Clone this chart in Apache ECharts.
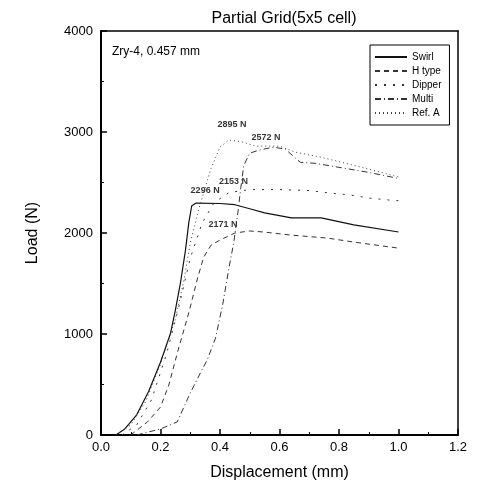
<!DOCTYPE html>
<html>
<head>
<meta charset="utf-8">
<script src="https://cdn.jsdelivr.net/npm/echarts@6/dist/echarts.min.js"></script>
<style>
  html, body { margin: 0; padding: 0; background: #fff; }
  #main { width: 478px; height: 491px; }
</style>
</head>
<body>
<div id="main"></div>
<script>
// data: [displacement (mm), load (N)]
var seriesNames = ['Swirl', 'H type', 'Dipper', 'Multi', 'Ref. A'];

var swirl = [[0.05,0],[0.08,60],[0.12,200],[0.16,430],[0.2,720],[0.234,1010],[0.25,1237],[0.267,1505],
  [0.284,1830],[0.295,2100],[0.305,2270],[0.32,2296],[0.4,2292],[0.45,2280],[0.5,2240],[0.55,2200],
  [0.64,2150],[0.74,2150],[0.85,2080],[1.0,2010]];
var hType = [[0.1,0],[0.156,129],[0.2,277],[0.228,495],[0.26,850],[0.295,1208],[0.323,1535],[0.345,1760],
  [0.37,1880],[0.4,1930],[0.45,2000],[0.5,2020],[0.546,2010],[0.636,1980],[0.76,1950],[0.85,1910],[1.0,1850]];
var dipper = [[0.07,0],[0.12,100],[0.17,350],[0.22,800],[0.26,1250],[0.3,1750],[0.34,2100],[0.38,2300],
  [0.43,2400],[0.5,2430],[0.6,2430],[0.7,2420],[0.77,2395],[0.84,2376],[0.9,2346],[0.97,2326],[1.0,2320]];
var multi = [[0.12,0],[0.2,60],[0.256,129],[0.3,416],[0.334,614],[0.357,743],[0.385,960],[0.41,1307],
  [0.43,1653],[0.446,1900],[0.46,2200],[0.47,2450],[0.48,2670],[0.5,2790],[0.53,2820],[0.58,2850],
  [0.62,2830],[0.65,2750],[0.67,2700],[0.72,2690],[0.8,2650],[0.9,2600],[1.0,2540]];
var refA = [[0.05,0],[0.1,100],[0.15,330],[0.2,700],[0.25,1150],[0.28,1550],[0.3,1900],[0.328,2230],
  [0.368,2624],[0.4,2851],[0.43,2920],[0.47,2905],[0.52,2860],[0.6,2860],[0.654,2800],[0.74,2750],
  [0.85,2670],[1.0,2555]];

// peak annotations: [x, y, text]
var peakLabels = [[0.44,3070,'2895 N'],[0.555,2950,'2572 N'],[0.445,2505,'2153 N'],
  [0.35,2425,'2296 N'],[0.41,2080,'2171 N']];

var xTicks = [0, 1.2, 0.2];
var yTicks = [0, 4000, 1000];

var chart = echarts.init(document.getElementById('main'));
var FONT = 'Liberation Sans';

function mkLine(name, data, type, color, width) {
  return {
    name: name,
    type: 'line',
    data: data,
    symbol: 'none',
    smooth: false,
    lineStyle: { type: type, color: color, width: width },
    itemStyle: { color: color },
    z: 3
  };
}

var series = [
  mkLine(seriesNames[0], swirl, 'solid', '#111', 1.2),
  mkLine(seriesNames[1], hType, [5, 4], '#333', 1),
  mkLine(seriesNames[2], dipper, [2, 7], '#333', 1),
  mkLine(seriesNames[3], multi, [6, 3, 1, 3], '#333', 1),
  mkLine(seriesNames[4], refA, [1, 3], '#444', 1)
];

series.push({
  type: 'scatter',
  data: peakLabels.map(function (p) { return { value: [p[0], p[1]], label: { formatter: p[2] } }; }),
  symbolSize: 0,
  silent: true,
  label: {
    show: true, position: 'inside', color: '#000',
    fontFamily: FONT, fontSize: 9, fontWeight: 'bold'
  }
});

var option = {
  animation: false,
  backgroundColor: '#fff',
  title: {
    text: 'Partial Grid(5x5 cell)',
    left: 279, top: 6, textAlign: 'center',
    textStyle: { fontFamily: FONT, fontSize: 16, fontWeight: 'normal', color: '#000' }
  },
  grid: { left: 101, right: 20, top: 31, bottom: 56 },
  legend: {
    data: seriesNames,
    orient: 'vertical',
    left: 370, top: 45, width: 77,
    padding: [7, 8, 7, 4],
    itemGap: 4,
    itemWidth: 32, itemHeight: 9,
    borderColor: '#000', borderWidth: 1,
    itemStyle: { opacity: 0 },
    textStyle: { fontFamily: FONT, fontSize: 10, color: '#000' }
  },
  xAxis: [{
    type: 'value',
    min: xTicks[0], max: xTicks[1], interval: xTicks[2],
    name: 'Displacement (mm)',
    nameLocation: 'middle', nameGap: 30,
    nameTextStyle: { fontFamily: FONT, fontSize: 16, color: '#000' },
    axisLine: { onZero: false, lineStyle: { color: '#000', width: 2 } },
    axisTick: { inside: true, length: 6, lineStyle: { color: '#000', width: 1.5 } },
    minorTick: { show: true, splitNumber: 2, length: 3, lineStyle: { color: '#000' } },
    axisLabel: { fontFamily: FONT, fontSize: 13, color: '#000', margin: 6,
      formatter: function (v) { return v.toFixed(1); } },
    splitLine: { show: false }
  }, {
    type: 'value', position: 'top',
    min: xTicks[0], max: xTicks[1],
    axisLine: { onZero: false, lineStyle: { color: '#000', width: 1.5 } },
    axisTick: { show: false }, axisLabel: { show: false }, splitLine: { show: false }
  }],
  yAxis: [{
    type: 'value',
    min: yTicks[0], max: yTicks[1], interval: yTicks[2],
    name: 'Load (N)',
    nameLocation: 'middle', nameGap: 60,
    nameTextStyle: { fontFamily: FONT, fontSize: 16, color: '#000' },
    axisLine: { show: true, onZero: false, lineStyle: { color: '#000', width: 2 } },
    axisTick: { show: true, inside: true, length: 6, lineStyle: { color: '#000', width: 1.5 } },
    minorTick: { show: true, splitNumber: 2, length: 3, lineStyle: { color: '#000' } },
    axisLabel: { fontFamily: FONT, fontSize: 13, color: '#000', margin: 8,
      formatter: function (v) { return String(v); } },
    splitLine: { show: false }
  }, {
    type: 'value', position: 'right',
    min: yTicks[0], max: yTicks[1],
    axisLine: { show: true, onZero: false, lineStyle: { color: '#000', width: 1.5 } },
    axisTick: { show: false }, axisLabel: { show: false }, splitLine: { show: false }
  }],
  graphic: [{
    type: 'text', left: 112, top: 46,
    style: { text: 'Zry-4, 0.457 mm', font: '12px "Liberation Sans"', fill: '#000' }
  }],
  series: series
};

chart.setOption(option);
</script>
</body>
</html>
